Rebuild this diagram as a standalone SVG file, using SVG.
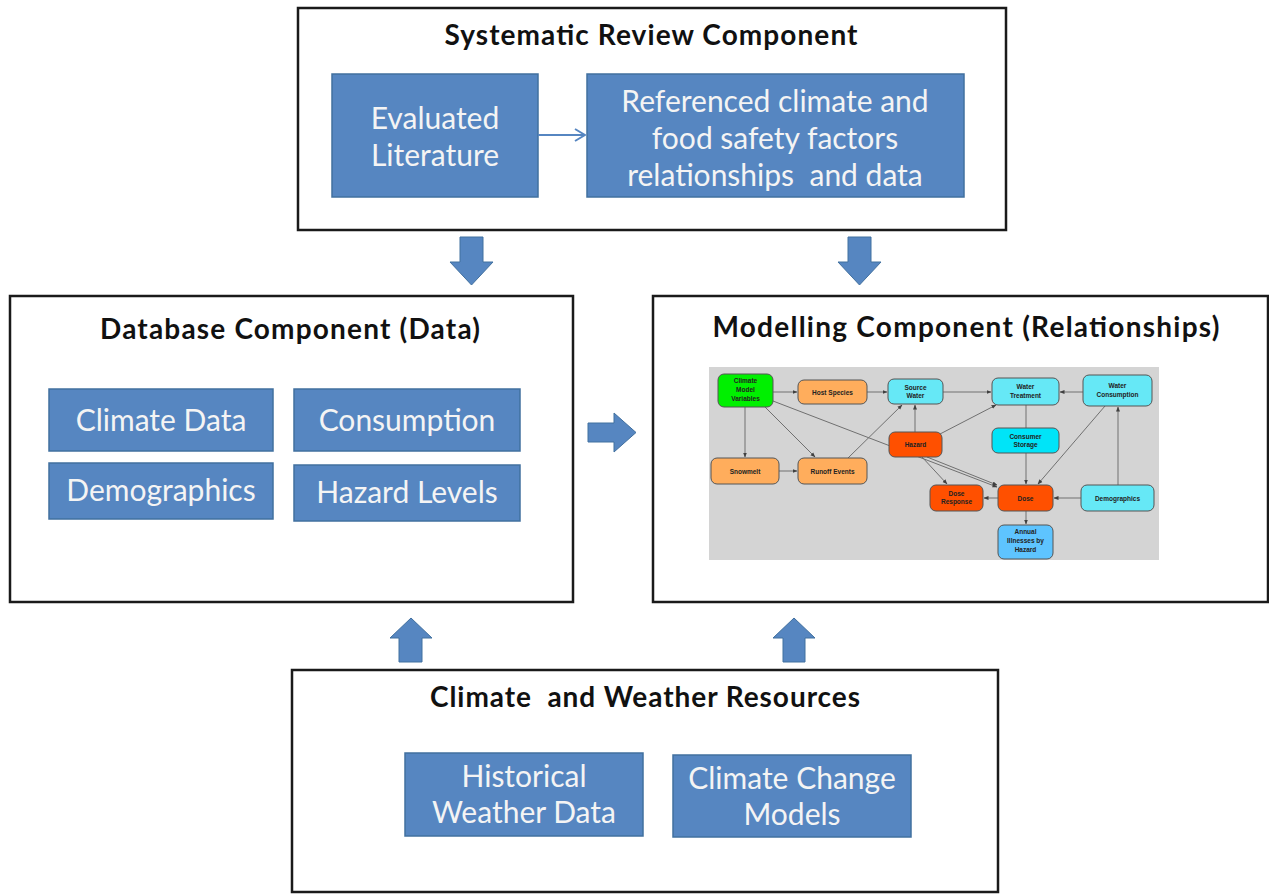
<svg xmlns="http://www.w3.org/2000/svg" width="1269" height="894" viewBox="0 0 1269 894">
<style>
.outer{fill:#fff;stroke:#1a1a1a;stroke-width:2.5}
.blue{fill:#5686c1;stroke:#41709f;stroke-width:1.5}
.barrow{fill:#5686c1;stroke:#41709f;stroke-width:1}
.title{font-family:Lato,"Liberation Sans",sans-serif;font-weight:bold;font-size:28px;fill:#111;text-anchor:middle}
.wt{font-family:Lato,"Liberation Sans",sans-serif;font-size:30px;fill:#f4f4f4;text-anchor:middle}
.n{stroke:#555;stroke-width:1}
.nt{font-family:"Liberation Sans",Arial,sans-serif;font-weight:bold;font-size:6.5px;fill:#222;text-anchor:middle}
.e{stroke:#707070;stroke-width:1;fill:none}
.ea{stroke:#707070;stroke-width:1;fill:none;marker-end:url(#ah)}
</style>
<defs>
<marker id="ah" markerUnits="userSpaceOnUse" markerWidth="5" markerHeight="5" refX="4.5" refY="2.5" orient="auto">
<path d="M0,0.5 L5,2.5 L0,4.5 Z" fill="#404040"/>
</marker>
<marker id="oa" markerUnits="userSpaceOnUse" markerWidth="12" markerHeight="14" refX="11" refY="7" orient="auto">
<path d="M1,1 L11,7 L1,13" fill="none" stroke="#5686c1" stroke-width="2"/>
</marker>
</defs>

<g id="systematic-review">
<rect class="outer" x="298" y="8" width="708" height="222"/>
<text class="title" x="651" y="45" textLength="413">Systematic Review Component</text>
</g>
<g id="evaluated-literature">
<rect class="blue" x="332" y="74" width="206" height="123"/>
<text class="wt" x="435" y="129">Evaluated</text>
<text class="wt" x="435" y="166">Literature</text>
</g>
<g id="referenced-factors">
<rect class="blue" x="587" y="74" width="377" height="123"/>
<text class="wt" x="775" y="112">Referenced climate and</text>
<text class="wt" x="775" y="149">food safety factors</text>
<text class="wt" x="775" y="186" xml:space="preserve">relationships  and data</text>
</g>

<g id="database">
<rect class="outer" x="10" y="296" width="563" height="306"/>
<text class="title" x="290" y="339" textLength="380">Database Component (Data)</text>
</g>
<g id="climate-data"><rect class="blue" x="49" y="389" width="224" height="62"/><text class="wt" x="161" y="431" font-size="29">Climate Data</text></g>
<g id="consumption"><rect class="blue" x="294" y="389" width="226" height="62"/><text class="wt" x="407" y="431" font-size="29">Consumption</text></g>
<g id="demographics"><rect class="blue" x="49" y="463" width="224" height="56"/><text class="wt" x="161" y="501" font-size="29">Demographics</text></g>
<g id="hazard-levels"><rect class="blue" x="294" y="465" width="226" height="56"/><text class="wt" x="407" y="503" font-size="29">Hazard Levels</text></g>

<g id="modelling">
<rect class="outer" x="653" y="296" width="615" height="306"/>
<text class="title" x="966" y="337" textLength="507">Modelling Component (Relationships)</text>
</g>

<g id="climate-weather">
<rect class="outer" x="292" y="670" width="706" height="222"/>
<text class="title" x="645" y="707" textLength="430" xml:space="preserve">Climate  and Weather Resources</text>
</g>
<g id="historical-weather">
<rect class="blue" x="405" y="753" width="238" height="83"/>
<text class="wt" x="524" y="787">Historical</text>
<text class="wt" x="524" y="823">Weather Data</text>
</g>
<g id="climate-change-models">
<rect class="blue" x="673" y="755" width="238" height="82"/>
<text class="wt" x="792" y="789">Climate Change</text>
<text class="wt" x="792" y="825">Models</text>
</g>

<g id="connectors">
<line x1="538" y1="135" x2="585" y2="135" stroke="#5686c1" stroke-width="2" marker-end="url(#oa)"/>
<path class="barrow" d="M460,237 H483 V262 H493 L471.5,285 L450,262 H460 Z"/>
<path class="barrow" d="M848,237 H871 V262 H881 L859.5,285 L838,262 H848 Z"/>
<path class="barrow" d="M588,423 H614 V413 L636,432.5 L614,452 V442 H588 Z"/>
<path class="barrow" d="M399,662 H422 V638 H432 L411,618 L390,638 H399 Z"/>
<path class="barrow" d="M783,662 H805 V638 H815 L794,618 L773,638 H783 Z"/>
</g>

<g id="model-diagram">
<rect x="709" y="367" width="450" height="193" fill="#d4d4d4"/>
<g id="model-edges">
<path class="ea" d="M773,392 L797,392"/>
<path class="ea" d="M867,392 L887,392"/>
<path class="ea" d="M943,392 L991,392"/>
<path class="ea" d="M1083,392 L1060,392"/>
<path class="ea" d="M745,407 L745,457"/>
<path class="ea" d="M779,471 L797,471"/>
<path class="ea" d="M765,407 L815,457"/>
<path class="ea" d="M773,401 L997,487"/>
<path class="ea" d="M848,458 L902,405"/>
<path class="ea" d="M915,432 L915,405"/>
<path class="ea" d="M940,434 L996,405"/>
<path class="ea" d="M922,457 L947,484"/>
<path class="ea" d="M927,457 L997,485"/>
<path class="e" d="M1026,405 L1026,428"/>
<path class="ea" d="M1026,453 L1026,484"/>
<path class="ea" d="M1105,406 L1038,484"/>
<path class="ea" d="M1118,485 L1118,407"/>
<path class="ea" d="M1081,498 L1054,498"/>
<path class="ea" d="M998,498 L984,498"/>
<path class="ea" d="M1026,511 L1026,524"/>
</g>
<g id="n-cmv"><rect class="n" x="718" y="374" width="55" height="33" rx="6" fill="#00f000"/><text class="nt" x="745.5" y="383">Climate</text><text class="nt" x="745.5" y="392">Model</text><text class="nt" x="745.5" y="401">Variables</text></g>
<g id="n-host"><rect class="n" x="798" y="380" width="69" height="24" rx="6" fill="#ffad5c"/><text class="nt" x="832.5" y="394.5">Host Species</text></g>
<g id="n-source"><rect class="n" x="888" y="379" width="55" height="25" rx="6" fill="#66e8f6"/><text class="nt" x="915.5" y="389.5">Source</text><text class="nt" x="915.5" y="397.5">Water</text></g>
<g id="n-wt"><rect class="n" x="992" y="378" width="67" height="27" rx="6" fill="#66e8f6"/><text class="nt" x="1025.5" y="389">Water</text><text class="nt" x="1025.5" y="397.5">Treatment</text></g>
<g id="n-wc"><rect class="n" x="1083" y="375" width="69" height="31" rx="6" fill="#66e8f6"/><text class="nt" x="1117.5" y="388">Water</text><text class="nt" x="1117.5" y="397">Consumption</text></g>
<g id="n-hazard"><rect class="n" x="889" y="432" width="53" height="25" rx="6" fill="#ff5000"/><text class="nt" x="915.5" y="447">Hazard</text></g>
<g id="n-storage"><rect class="n" x="992" y="428" width="67" height="25" rx="6" fill="#00e4f8"/><text class="nt" x="1025.5" y="438.5">Consumer</text><text class="nt" x="1025.5" y="447">Storage</text></g>
<g id="n-snowmelt"><rect class="n" x="711" y="458" width="68" height="26" rx="6" fill="#ffad5c"/><text class="nt" x="745" y="473.5">Snowmelt</text></g>
<g id="n-runoff"><rect class="n" x="798" y="458" width="69" height="26" rx="6" fill="#ffad5c"/><text class="nt" x="832.5" y="473.5">Runoff Events</text></g>
<g id="n-doseresp"><rect class="n" x="930" y="485" width="53" height="26" rx="6" fill="#ff5000"/><text class="nt" x="956.5" y="495.5">Dose</text><text class="nt" x="956.5" y="504">Response</text></g>
<g id="n-dose"><rect class="n" x="998" y="485" width="55" height="26" rx="6" fill="#ff5000"/><text class="nt" x="1025.5" y="500.5">Dose</text></g>
<g id="n-demo"><rect class="n" x="1081" y="485" width="73" height="26" rx="6" fill="#66e8f6"/><text class="nt" x="1117.5" y="500.5">Demographics</text></g>
<g id="n-annual"><rect class="n" x="998" y="525" width="55" height="34" rx="6" fill="#5ec4ff"/><text class="nt" x="1025.5" y="534" font-weight="normal" fill="#444">Annual</text><text class="nt" x="1025.5" y="543" font-weight="normal" fill="#444">Illnesses by</text><text class="nt" x="1025.5" y="552" font-weight="normal" fill="#444">Hazard</text></g>
</g>
</svg>
